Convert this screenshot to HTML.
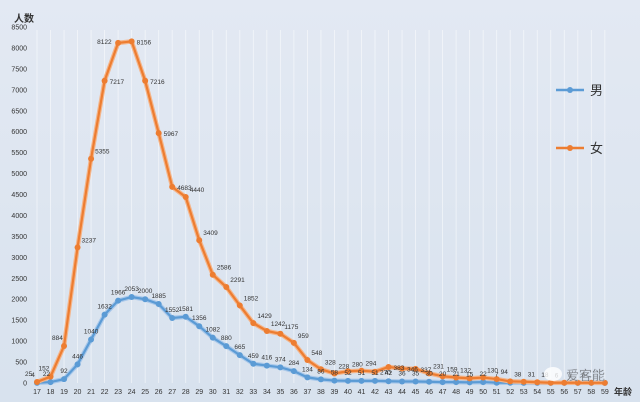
<!DOCTYPE html>
<html><head><meta charset="utf-8"><style>
body{margin:0;width:640px;height:402px;overflow:hidden;background:#dde6f1}
svg{display:block}
text{font-family:"Liberation Sans","Noto Sans CJK SC",sans-serif;fill:#333}
</style></head><body>
<svg id="s" width="640" height="402" viewBox="0 0 640 402">
<defs><linearGradient id="bg" x1="0" y1="0" x2="0" y2="1"><stop offset="0" stop-color="#e3e9f3"/><stop offset="1" stop-color="#d8e2ee"/></linearGradient></defs>
<rect width="640" height="402" fill="url(#bg)"/>
<g id="grid"></g>
<g font-size="7" text-anchor="end" id="yt">
<text>0</text><text>500</text><text>1000</text><text>1500</text><text>2000</text><text>2500</text><text>3000</text><text>3500</text><text>4000</text><text>4500</text><text>5000</text><text>5500</text><text>6000</text><text>6500</text><text>7000</text><text>7500</text><text>8000</text><text>8500</text>
</g>
<text x="14" y="22" font-size="10" font-weight="bold" fill="#222">人数</text>
<g font-size="7" text-anchor="middle" id="xt">
<text>17</text><text>18</text><text>19</text><text>20</text><text>21</text><text>22</text><text>23</text><text>24</text><text>25</text><text>26</text><text>27</text><text>28</text><text>29</text><text>30</text><text>31</text><text>32</text><text>33</text><text>34</text><text>35</text><text>36</text><text>37</text><text>38</text><text>39</text><text>40</text><text>41</text><text>42</text><text>43</text><text>44</text><text>45</text><text>46</text><text>47</text><text>48</text><text>49</text><text>50</text><text>51</text><text>52</text><text>53</text><text>54</text><text>55</text><text>56</text><text>57</text><text>58</text><text>59</text>
</g>
<text x="614" y="395" font-size="9" font-weight="bold" fill="#222">年龄</text>
<g id="series"></g>
<g font-size="6.5" id="fl">
<text>25</text><text>152</text><text>884</text><text>3237</text><text>5355</text><text>7217</text><text>8122</text><text>8156</text><text>7216</text><text>5967</text><text>4683</text><text>4440</text><text>3409</text><text>2586</text><text>2291</text><text>1852</text><text>1429</text><text>1242</text><text>1175</text><text>959</text><text>548</text><text>328</text><text>228</text><text>280</text><text>294</text><text>270</text><text>383</text><text>346</text><text>337</text><text>231</text><text>159</text><text>132</text><text></text><text>130</text><text>94</text><text>38</text><text>31</text><text>18</text><text>6</text><text>6</text><text>6</text><text></text><text></text>
</g>
<g font-size="6.5" id="ml">
<text>4</text><text>22</text><text>92</text><text>446</text><text>1040</text><text>1632</text><text>1966</text><text>2053</text><text>2000</text><text>1885</text><text>1552</text><text>1581</text><text>1356</text><text>1082</text><text>880</text><text>665</text><text>459</text><text>416</text><text>374</text><text>284</text><text>134</text><text>86</text><text>58</text><text>52</text><text>51</text><text>51</text><text>42</text><text>36</text><text>35</text><text>30</text><text>20</text><text>21</text><text>15</text><text>22</text><text>7</text><text></text><text></text><text></text><text></text><text></text><text></text><text></text><text></text>
</g>
<line x1="556" y1="90" x2="584" y2="90" stroke="#5b9bd5" stroke-width="2.5"/><circle cx="570" cy="90" r="3" fill="#5b9bd5"/>
<text x="590" y="95" font-size="13" fill="#333">男</text>
<line x1="556" y1="148" x2="584" y2="148" stroke="#ed7d31" stroke-width="2.5"/><circle cx="570" cy="148" r="3" fill="#ed7d31"/>
<text x="590" y="153" font-size="13" fill="#333">女</text>
<ellipse cx="553" cy="374" rx="9" ry="7" fill="#fff" opacity="0.8"/>
<text x="566" y="380" font-size="13" fill="#fff" fill-opacity="0.8" stroke="#c9d1dc" stroke-width="0.4">爱客能</text>
</svg>
<script>
var F=[25,152,884,3237,5355,7217,8122,8156,7216,5967,4683,4440,3409,2586,2291,1852,1429,1242,1175,959,548,328,228,280,294,270,383,346,337,231,159,132,110,130,94,38,31,18,6,6,6,5,4];
var M=[4,22,92,446,1040,1632,1966,2053,2000,1885,1552,1581,1356,1082,880,665,459,416,374,284,134,86,58,52,51,51,42,36,35,30,20,21,15,22,7,5,3,3,3,3,3,3,3];
function X(i){return 37+i*13.52}function Y(v){return 383-v*0.04188}
var g=document.getElementById('grid'),h='';
for(var i=0;i<43;i++)h+='<line x1="'+X(i)+'" y1="30" x2="'+X(i)+'" y2="383" stroke="#fff" stroke-opacity="0.6" stroke-width="0.8"/>';
g.innerHTML=h;
var yt=document.getElementById('yt').children;
for(var k=0;k<yt.length;k++){yt[k].setAttribute('x',27);yt[k].setAttribute('y',Y(k*500)+2.5);}
var xt=document.getElementById('xt').children;
for(var k=0;k<xt.length;k++){xt[k].setAttribute('x',X(k));xt[k].setAttribute('y',394);}
function ser(d,c,lc){var p='';d.forEach(function(v,i){p+=(i?'L':'M')+X(i)+' '+Y(v)});
var s='<path d="'+p+'" fill="none" stroke="'+lc+'" stroke-width="4.5" stroke-linejoin="round"/><path d="'+p+'" fill="none" stroke="'+c+'" stroke-width="2.2"/>';
d.forEach(function(v,i){s+='<circle cx="'+X(i)+'" cy="'+Y(v)+'" r="3" fill="'+c+'"/>'});return s;}
document.getElementById('series').innerHTML=ser(M,'#5b9bd5','#a9c8ea')+ser(F,'#ed7d31','#f4b58a');
var fl=document.getElementById('fl').children;
for(var k=0;k<fl.length;k++){var x=X(k),y=Y(F[k]);
 fl[k].setAttribute('text-anchor','start');
 if(k>=5&&k<=10||k>=25&&k<=28||k<3){fl[k].setAttribute('x',x+(k<3?-12:5));fl[k].setAttribute('y',y+(k<3?-6:3));}
 else{fl[k].setAttribute('x',x+4);fl[k].setAttribute('y',y-5);}
 if(k==6){fl[k].setAttribute('x',x-21);fl[k].setAttribute('y',y+1);}}
var ml=document.getElementById('ml').children;
for(var k=0;k<ml.length;k++){var x=X(k),y=Y(M[k]);ml[k].setAttribute('text-anchor','middle');ml[k].setAttribute('x',x+(k<2?-4:0));ml[k].setAttribute('y',y-6);}
</script>
</body></html>
